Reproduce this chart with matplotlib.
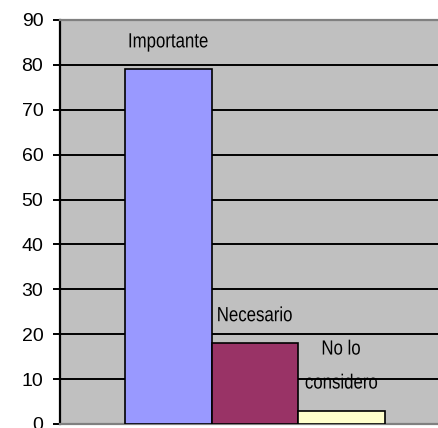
import numpy as np
import matplotlib.pyplot as plt
from matplotlib.textpath import TextPath
from matplotlib.font_manager import FontProperties
from matplotlib.patches import PathPatch
from matplotlib.transforms import Affine2D, ScaledTranslation

plt.rcParams["font.family"] = ["Liberation Sans", "DejaVu Sans"]

categories = ["Importante", "Necesario", "No lo\nconsidero"]
values = [79, 18, 3]
colors = ["#9999FF", "#993366", "#FFFFCC"]
yticks = list(range(0, 91, 10))

fig = plt.figure(figsize=(4.39, 4.28), dpi=100)
ax = fig.add_axes([60 / 439, 4 / 428, 379 / 439, 404 / 428])
ax.set_facecolor("#C0C0C0")

x = np.arange(len(values))
ax.bar(x, values, width=1.0, color=colors, edgecolor="black", linewidth=1.2, zorder=3)

# labels: condensed Arial-like text (squashed Liberation Sans), in pixels
fp = FontProperties(family="Liberation Sans")
text_px = 20.5
squash = 0.82
base_gap = 22   # px from bar top to baseline of last line
line_gap = 34   # px between baselines


def narrow_text(xd, yd, s, dy):
    tp = TextPath((0, 0), s, size=text_px, prop=fp)
    ext = tp.get_extents()
    cx = (ext.x0 + ext.x1) / 2
    tr = (Affine2D().translate(-cx, 0).scale(squash, 1).translate(0, dy)
          + ScaledTranslation(xd, yd, ax.transData))
    patch = PathPatch(tp, transform=tr, facecolor="#000000", edgecolor="none",
                      clip_on=False, zorder=4)
    fig.add_artist(patch)


for xi, v, lab in zip(x, values, categories):
    lines = lab.split("\n")
    for k, line in enumerate(lines):
        dy = base_gap + (len(lines) - 1 - k) * line_gap
        narrow_text(xi, v, line, dy)

ax.set_ylim(0, 90)
ax.set_xlim(-1.256, 3.13)
ax.set_yticks(yticks)
ax.yaxis.grid(True, color="black", linewidth=1.4, zorder=0)
ax.set_axisbelow(True)
ax.set_xticks([])
ax.tick_params(axis="y", length=5, width=1.4, pad=7, labelsize=14)

ax.spines["left"].set_linewidth(1.6)
ax.spines["left"].set_color("black")
ax.spines["top"].set_color("#808080")
ax.spines["top"].set_linewidth(1.6)
ax.spines["bottom"].set_color("#808080")
ax.spines["bottom"].set_linewidth(1.6)
ax.spines["right"].set_visible(False)

fig.savefig("out.png", dpi=100)
